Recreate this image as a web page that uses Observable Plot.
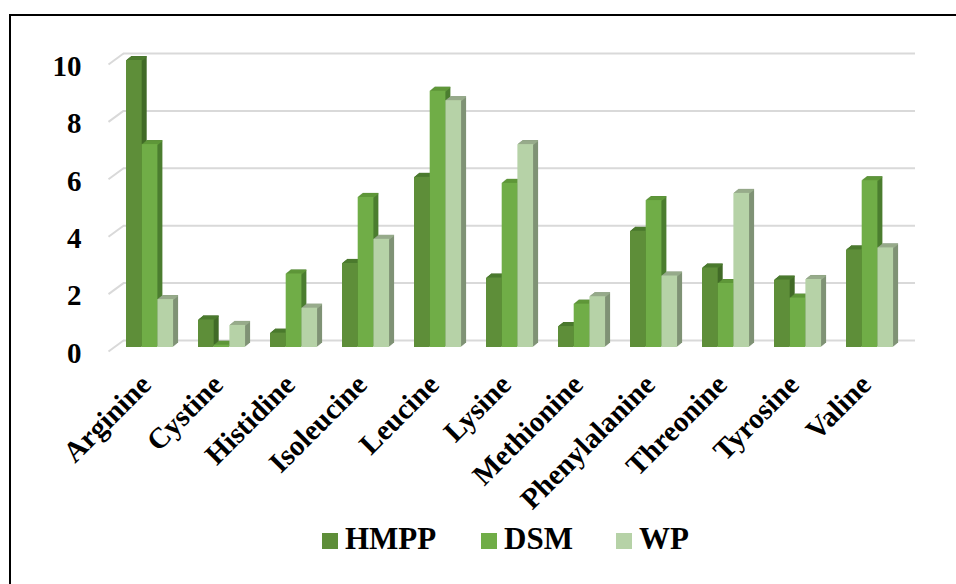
<!DOCTYPE html>
<html>
<head>
<meta charset="utf-8">
<script src="https://cdn.jsdelivr.net/npm/d3@7"></script>
<script src="https://cdn.jsdelivr.net/npm/@observablehq/plot@0.6"></script>
<style>
  html, body { margin: 0; padding: 0; background: #fff; }
  #frame { position: relative; width: 956px; height: 584px; overflow: hidden; background: #fff; }
  #border { position: absolute; left: 9px; top: 14px; width: 1000px; height: 700px; border: 2px solid #000; box-sizing: border-box; }
  #chart { position: absolute; left: 0; top: 0; }
  .legend-item { position: absolute; top: 522px; height: 34px; display: flex; align-items: center;
    font-family: "Liberation Serif", "Times New Roman", serif; font-weight: bold; font-size: 31px; color: #000; }
  .legend-item .sw { width: 16px; height: 16px; margin-right: 7px; margin-top: 3px; }
</style>
</head>
<body>
<div id="frame">
  <div id="border"></div>
  <div id="chart"></div>
  <div id="legend"></div>
</div>
<script>
// Amino acid content by protein source
const categories = ["Arginine", "Cystine", "Histidine", "Isoleucine", "Leucine", "Lysine",
  "Methionine", "Phenylalanine", "Threonine", "Tyrosine", "Valine"];
const seriesNames = ["HMPP", "DSM", "WP"];
const hmpp = [10.0, 0.96, 0.5, 2.93, 5.93, 2.42, 0.73, 4.05, 2.77, 2.35, 3.4];
const dsm  = [7.07, 0.08, 2.56, 5.23, 8.93, 5.72, 1.51, 5.12, 2.23, 1.72, 5.81];
const wp   = [1.67, 0.77, 1.37, 3.77, 8.6, 7.07, 1.77, 2.49, 5.37, 2.37, 3.47];
const yTicks = [0, 2, 4, 6, 8, 10];

// face colours per series: front, side, top
const palette = {
  HMPP: {front: "#5e8e39", side: "#416a27", top: "#4b7a2e"},
  DSM:  {front: "#70ad47", side: "#4b7d2f", top: "#5f9739"},
  WP:   {front: "#b6d2a7", side: "#7f9275", top: "#97ab8b"}
};

// bar geometry within a category slot (category units)
const groupOffset = 0.25;
const barWidth = 0.218;
// extrusion depth of each column, in pixels
const depthSteps = [1, 2, 3, 4, 5];
const depthRatio = -0.8;
// depth of the back wall relative to the floor front edge (data units)
const wallDepthX = 15 / 72;
const wallDepthY = 11 / 28.7;

const values = [hmpp, dsm, wp];
const rows = [];
seriesNames.forEach((s, j) => {
  values[j].forEach((v, i) => {
    const x1 = i + groupOffset + j * barWidth;
    rows.push({category: categories[i], series: s, value: v, x1, x2: x1 + barWidth});
  });
});

const font = "Liberation Serif, Times New Roman, serif";
const marks = [
  // back-wall gridlines
  Plot.ruleY(yTicks, {y: d => d, x1: 0, x2: categories.length, dx: 15, dy: -7, stroke: "#d9d9d9", strokeWidth: 2}),
  // side-wall edges joining the front plane to the back wall
  Plot.link(yTicks, {x1: 0, y1: d => d, x2: wallDepthX, y2: d => d + wallDepthY, dy: 4, stroke: "#d9d9d9", strokeWidth: 2})
];

// extruded sides and tops, series by series from left to right
seriesNames.forEach(s => {
  const data = rows.filter(r => r.series === s);
  depthSteps.forEach(k => {
    marks.push(Plot.rect(data, {x1: "x1", x2: "x2", y1: 0, y2: "value", fill: palette[s].side, dx: k, dy: depthRatio * k}));
  });
  [0.5, 1.5, 2.5, 3.5, 4.5].forEach(k => {
    marks.push(Plot.ruleY(data, {x1: "x1", x2: "x2", y: "value", stroke: palette[s].top, strokeWidth: 1.4, dx: k + 0.3, dy: depthRatio * k}));
  });
});

// front faces
seriesNames.forEach(s => {
  const data = rows.filter(r => r.series === s);
  marks.push(Plot.rect(data, {x1: "x1", x2: "x2", y1: 0, y2: "value", fill: palette[s].front}));
});

// value axis labels
marks.push(Plot.text(yTicks, {x: 0, y: d => d, text: d => String(d), dx: -27, dy: 6, textAnchor: "end",
  fontSize: 29, fontWeight: "bold", fontFamily: font, fill: "#000"}));

// rotated category labels
marks.push(Plot.text(categories, {x: (d, i) => i + 0.5, y: 0, text: d => d, rotate: -45, textAnchor: "end",
  lineAnchor: "bottom", dx: 8, dy: 39, fontSize: 29, fontWeight: "bold", fontFamily: font, fill: "#000"}));

const chart = Plot.plot({
  width: 956,
  height: 510,
  marginTop: 60,
  marginBottom: 163,
  marginLeft: 108,
  marginRight: 56,
  x: {type: "linear", domain: [0, categories.length], axis: null},
  y: {domain: [0, 10], axis: null},
  style: {background: "transparent", overflow: "visible"},
  marks
});
document.getElementById("chart").appendChild(chart);

// legend
const legendLeft = [322, 481, 616];
const legend = document.getElementById("legend");
seriesNames.forEach((s, j) => {
  const item = document.createElement("div");
  item.className = "legend-item";
  item.style.left = legendLeft[j] + "px";
  const sw = document.createElement("span");
  sw.className = "sw";
  sw.style.background = palette[s].front;
  const label = document.createElement("span");
  label.textContent = s;
  item.appendChild(sw);
  item.appendChild(label);
  legend.appendChild(item);
});
</script>
</body>
</html>
